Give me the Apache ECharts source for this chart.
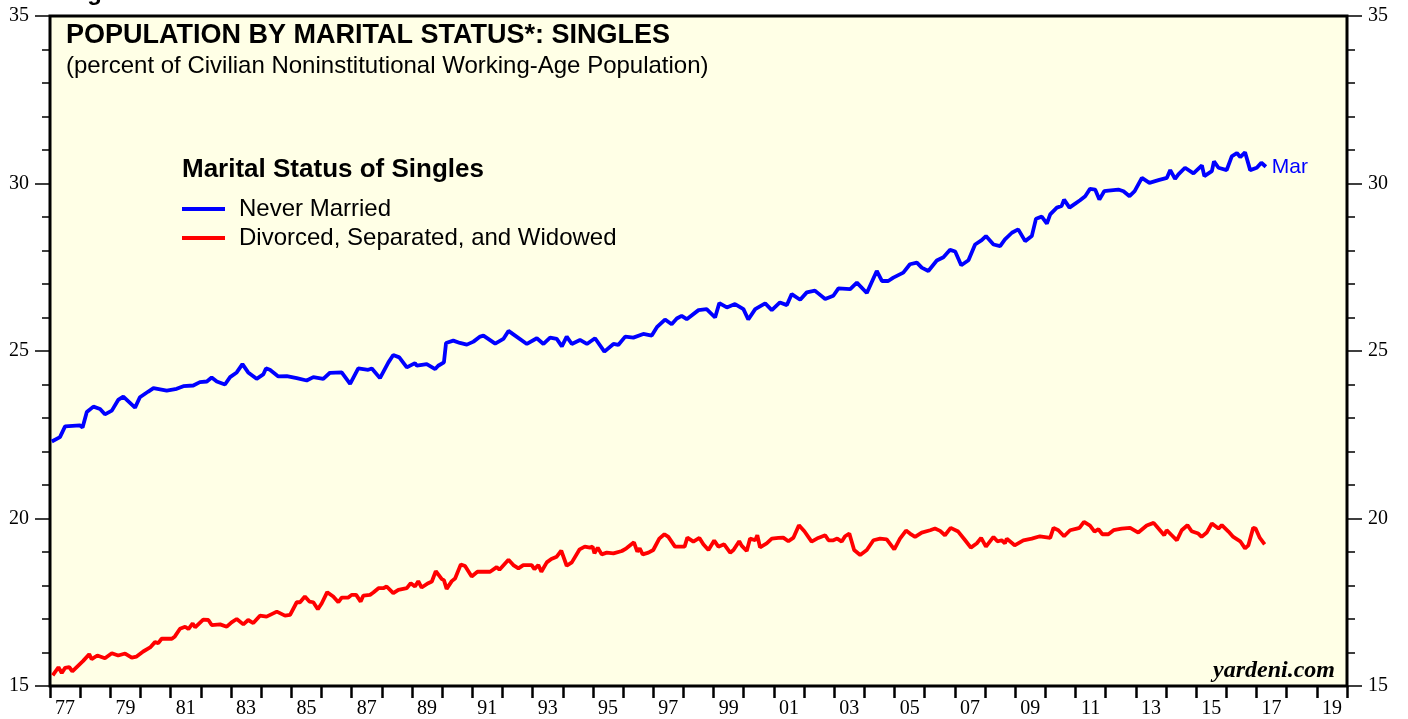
<!DOCTYPE html>
<html><head><meta charset="utf-8">
<script src="https://cdn.jsdelivr.net/npm/echarts@6/dist/echarts.min.js"></script>
<style>html,body{margin:0;padding:0;background:#fff}#c{width:1408px;height:719px}</style>
</head><body><div id="c"></div>
<script>
// Never Married (% of civilian noninstitutional working-age population)
const nmDates = [1977.06,1977.33,1977.50,1977.99,1978.08,1978.22,1978.44,1978.66,1978.82,1979.05,1979.26,1979.43,1979.82,1979.98,1980.26,1980.43,1980.87,1981.20,1981.42,1981.75,1981.97,1982.20,1982.36,1982.53,1982.80,1982.97,1983.19,1983.38,1983.57,1983.85,1984.07,1984.16,1984.29,1984.57,1984.85,1985.18,1985.51,1985.73,1986.06,1986.28,1986.67,1986.95,1987.22,1987.55,1987.67,1987.94,1988.22,1988.38,1988.58,1988.83,1989.10,1989.16,1989.49,1989.77,1989.87,1990.06,1990.13,1990.37,1990.59,1990.82,1991.04,1991.26,1991.37,1991.76,1992.03,1992.20,1992.42,1992.81,1993.14,1993.36,1993.58,1993.80,1993.97,1994.13,1994.30,1994.57,1994.80,1995.07,1995.38,1995.68,1995.84,1996.07,1996.34,1996.67,1996.95,1997.12,1997.39,1997.61,1997.78,1997.94,1998.11,1998.50,1998.77,1999.05,1999.19,1999.44,1999.71,1999.99,2000.15,2000.38,2000.71,2000.93,2001.20,2001.43,2001.59,2001.87,2002.09,2002.36,2002.47,2002.70,2002.97,2003.14,2003.53,2003.75,2004.08,2004.41,2004.58,2004.79,2004.96,2005.29,2005.51,2005.74,2005.90,2006.12,2006.40,2006.62,2006.84,2007.01,2007.21,2007.45,2007.67,2007.89,2008.03,2008.28,2008.50,2008.66,2008.89,2009.10,2009.33,2009.55,2009.69,2009.88,2010.05,2010.16,2010.38,2010.54,2010.62,2010.80,2010.99,2011.15,2011.32,2011.48,2011.65,2011.79,2011.95,2012.09,2012.42,2012.59,2012.79,2012.96,2013.20,2013.45,2013.75,2014.03,2014.14,2014.30,2014.41,2014.63,2014.91,2015.19,2015.27,2015.52,2015.59,2015.74,2016.01,2016.18,2016.35,2016.46,2016.62,2016.79,2017.01,2017.16,2017.31];
const nmValues = [22.30,22.43,22.75,22.78,22.72,23.18,23.34,23.27,23.11,23.22,23.54,23.64,23.31,23.62,23.79,23.89,23.82,23.87,23.95,23.97,24.07,24.09,24.21,24.09,24.00,24.22,24.36,24.61,24.36,24.17,24.30,24.48,24.44,24.24,24.25,24.19,24.12,24.22,24.17,24.35,24.36,24.02,24.48,24.44,24.48,24.19,24.66,24.88,24.81,24.51,24.64,24.56,24.61,24.46,24.56,24.66,25.24,25.31,25.24,25.19,25.28,25.43,25.46,25.22,25.36,25.60,25.46,25.21,25.38,25.21,25.40,25.36,25.14,25.43,25.21,25.33,25.21,25.38,24.98,25.21,25.18,25.43,25.40,25.51,25.46,25.71,25.94,25.80,25.97,26.05,25.95,26.22,26.25,26.00,26.43,26.30,26.40,26.25,25.94,26.25,26.42,26.22,26.45,26.37,26.70,26.53,26.75,26.80,26.72,26.55,26.65,26.87,26.85,27.04,26.73,27.39,27.09,27.09,27.19,27.34,27.59,27.64,27.49,27.39,27.70,27.80,28.02,27.97,27.56,27.71,28.18,28.31,28.43,28.18,28.13,28.33,28.53,28.63,28.28,28.43,28.95,29.01,28.80,29.08,29.28,29.33,29.52,29.28,29.40,29.50,29.62,29.84,29.82,29.52,29.77,29.79,29.82,29.77,29.62,29.77,30.17,30.02,30.10,30.17,30.40,30.14,30.27,30.47,30.30,30.54,30.22,30.37,30.66,30.47,30.40,30.81,30.91,30.79,30.93,30.40,30.47,30.62,30.50];

// Divorced, Separated, and Widowed
const dswDates = [1977.09,1977.28,1977.39,1977.50,1977.64,1977.74,1978.10,1978.30,1978.38,1978.57,1978.82,1979.05,1979.26,1979.49,1979.71,1979.87,1980.09,1980.32,1980.48,1980.59,1980.70,1981.04,1981.14,1981.31,1981.48,1981.59,1981.73,1981.81,1982.08,1982.25,1982.36,1982.64,1982.86,1983.02,1983.19,1983.41,1983.57,1983.74,1983.96,1984.18,1984.52,1984.79,1984.96,1985.18,1985.29,1985.45,1985.60,1985.73,1985.88,1986.01,1986.19,1986.39,1986.56,1986.67,1986.89,1987.00,1987.15,1987.30,1987.39,1987.61,1987.72,1987.89,1988.05,1988.16,1988.38,1988.55,1988.83,1988.96,1989.10,1989.21,1989.32,1989.54,1989.66,1989.79,1989.99,1990.06,1990.15,1990.32,1990.43,1990.62,1990.76,1990.98,1991.17,1991.42,1991.59,1991.81,1991.90,1992.20,1992.36,1992.53,1992.69,1992.97,1993.06,1993.19,1993.29,1993.47,1993.62,1993.80,1993.95,1994.13,1994.30,1994.56,1994.73,1994.90,1994.99,1995.05,1995.16,1995.29,1995.46,1995.68,1995.96,1996.11,1996.36,1996.47,1996.55,1996.65,1996.84,1997.00,1997.20,1997.37,1997.50,1997.72,1997.93,1998.04,1998.13,1998.33,1998.53,1998.66,1998.83,1999.02,1999.16,1999.35,1999.55,1999.66,1999.85,1999.93,2000.10,2000.21,2000.38,2000.45,2000.54,2000.76,2000.93,2001.15,2001.31,2001.48,2001.65,2001.83,2002.01,2002.25,2002.47,2002.70,2002.81,2002.97,2003.10,2003.25,2003.36,2003.50,2003.66,2003.86,2004.08,2004.30,2004.52,2004.74,2004.99,2005.18,2005.38,2005.51,2005.68,2005.90,2006.18,2006.34,2006.51,2006.67,2006.86,2007.11,2007.34,2007.53,2007.73,2007.87,2008.03,2008.28,2008.41,2008.55,2008.66,2008.72,2008.98,2009.27,2009.55,2009.82,2010.16,2010.27,2010.43,2010.62,2010.82,2011.04,2011.13,2011.28,2011.48,2011.63,2011.76,2011.89,2012.09,2012.26,2012.53,2012.81,2013.08,2013.36,2013.59,2013.75,2013.94,2014.02,2014.19,2014.36,2014.52,2014.71,2014.85,2015.07,2015.18,2015.35,2015.52,2015.74,2015.85,2016.07,2016.23,2016.46,2016.62,2016.73,2016.89,2016.97,2017.11,2017.27];
const dswValues = [15.32,15.56,15.39,15.54,15.56,15.44,15.75,15.95,15.80,15.91,15.83,15.98,15.91,15.97,15.85,15.88,16.03,16.15,16.31,16.28,16.41,16.41,16.48,16.71,16.77,16.70,16.87,16.75,16.98,16.97,16.82,16.84,16.77,16.90,17.00,16.84,16.97,16.88,17.10,17.07,17.22,17.10,17.12,17.50,17.50,17.67,17.52,17.50,17.29,17.47,17.80,17.67,17.50,17.64,17.64,17.72,17.72,17.52,17.70,17.72,17.79,17.92,17.92,17.97,17.77,17.87,17.92,18.07,17.97,18.13,17.94,18.07,18.12,18.43,18.19,18.16,17.90,18.13,18.21,18.63,18.58,18.27,18.41,18.41,18.41,18.55,18.47,18.77,18.61,18.51,18.61,18.61,18.49,18.61,18.41,18.69,18.79,18.86,19.04,18.59,18.69,19.08,19.16,19.13,19.16,18.96,19.13,18.93,18.98,18.96,19.03,19.11,19.29,19.01,19.11,18.93,18.98,19.06,19.40,19.53,19.45,19.16,19.16,19.16,19.43,19.31,19.42,19.23,19.06,19.34,19.16,19.23,18.98,19.06,19.32,19.19,19.03,19.40,19.35,19.50,19.14,19.26,19.40,19.42,19.43,19.32,19.43,19.80,19.62,19.31,19.42,19.50,19.35,19.35,19.40,19.31,19.47,19.55,19.06,18.91,19.06,19.35,19.40,19.38,19.08,19.40,19.64,19.55,19.45,19.58,19.65,19.70,19.63,19.50,19.72,19.61,19.35,19.13,19.26,19.42,19.16,19.45,19.32,19.35,19.26,19.40,19.20,19.35,19.40,19.47,19.42,19.72,19.65,19.47,19.65,19.70,19.72,19.90,19.79,19.61,19.68,19.53,19.53,19.65,19.70,19.72,19.58,19.79,19.87,19.70,19.50,19.65,19.50,19.35,19.65,19.80,19.62,19.55,19.45,19.58,19.85,19.70,19.80,19.61,19.45,19.32,19.11,19.20,19.72,19.70,19.42,19.23];

const seriesNames = ['Never Married', 'Divorced, Separated, and Widowed'];
const yearTicks = [1977,1978,1979,1980,1981,1982,1983,1984,1985,1986,1987,1988,1989,1990,1991,1992,1993,1994,1995,1996,1997,1998,1999,2000,2001,2002,2003,2004,2005,2006,2007,2008,2009,2010,2011,2012,2013,2014,2015,2016,2017,2018,2019,2020];
const yearLabels = ['77','79','81','83','85','87','89','91','93','95','97','99','01','03','05','07','09','11','13','15','17','19'];
const lastLabel = 'Mar';

const labelYears = yearLabels.map(s => { const n = +s; return (n >= 50 ? 1900 + n : 2000 + n) + 0.5; });
const labelMap = {};
labelYears.forEach((v, i) => { labelMap[v.toFixed(1)] = yearLabels[i]; });

const zip = (a, b) => a.map((d, i) => [d, b[i]]);

const chart = echarts.init(document.getElementById('c'), null, {renderer: 'canvas'});
const sans = 'Liberation Sans, Arial, Helvetica, sans-serif';
const serif = 'Liberation Serif, Times New Roman, serif';

const yAxisCommon = {
  type: 'value', min: 15, max: 35, interval: 5,
  splitLine: {show: false},
  axisLine: {show: false},
  axisTick: {show: true, length: 15, lineStyle: {color: '#000', width: 1.5}},
  minorTick: {show: true, splitNumber: 5, length: 8, lineStyle: {color: '#000', width: 1.5}},
  axisLabel: {color: '#000', fontFamily: serif, fontSize: 20, margin: 21}
};

chart.setOption({
  animation: false,
  backgroundColor: '#ffffff',
  grid: {left: 50, right: 61, top: 16, bottom: 31, show: true, backgroundColor: '#FFFFE6', borderColor: '#000', borderWidth: 3},
  title: [
    {text: 'POPULATION BY MARITAL STATUS*: SINGLES', left: 66, top: 22, padding: 0,
     textStyle: {fontFamily: sans, fontSize: 27, fontWeight: 'bold', color: '#000'}},
    {text: '(percent of Civilian Noninstitutional Working-Age Population)', left: 66, top: 54, padding: 0,
     textStyle: {fontFamily: sans, fontSize: 24, fontWeight: 'normal', color: '#000'}},
    {text: 'Marital Status of Singles', left: 182, top: 157, padding: 0,
     textStyle: {fontFamily: sans, fontSize: 26, fontWeight: 'bold', color: '#000'}}
  ],
  legend: {
    data: seriesNames, orient: 'vertical', left: 182, top: 197, padding: 0,
    icon: 'rect', itemWidth: 43, itemHeight: 4, itemGap: 5,
    textStyle: {fontFamily: sans, fontSize: 24, color: '#000', padding: [0, 0, 0, 9]},
    selectedMode: false
  },
  xAxis: {
    type: 'value', min: 1977, max: 2020,
    splitLine: {show: false},
    axisLine: {show: false},
    axisTick: {show: true, length: 12, customValues: yearTicks, lineStyle: {color: '#000', width: 2.5}},
    axisLabel: {show: true, customValues: labelYears, margin: 13, color: '#000', fontFamily: serif, fontSize: 20,
      formatter: v => labelMap[(+v).toFixed(1)] || ''}
  },
  yAxis: [
    Object.assign({}, yAxisCommon, {position: 'left'}),
    Object.assign({}, yAxisCommon, {position: 'right'})
  ],
  graphic: [
    {type: 'text', right: 73, top: 659, style: {text: 'yardeni.com', fontFamily: serif, fontSize: 24, fontStyle: 'italic', fontWeight: 'bold', fill: '#000'}},
    {type: 'text', left: 66, top: -19, style: {text: 'Figure', fontFamily: sans, fontSize: 24, fontWeight: 'bold', fill: '#000'}}
  ],
  series: [
    {name: seriesNames[0], type: 'line', data: zip(nmDates, nmValues), showSymbol: false, symbol: 'none',
     lineStyle: {color: '#0000FF', width: 3.8}, itemStyle: {color: '#0000FF'},
     endLabel: {show: true, formatter: () => lastLabel, color: '#0000FF', fontFamily: sans, fontSize: 21, distance: 6}},
    {name: seriesNames[1], type: 'line', data: zip(dswDates, dswValues), showSymbol: false, symbol: 'none',
     lineStyle: {color: '#FF0000', width: 3.8}, itemStyle: {color: '#FF0000'}}
  ]
});
</script>
</body></html>
